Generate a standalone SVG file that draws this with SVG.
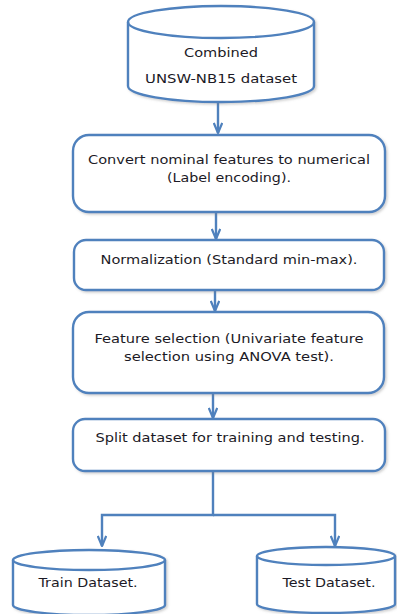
<svg xmlns="http://www.w3.org/2000/svg" width="397" height="614" viewBox="0 0 397 614">
  <defs>
    <marker id="arrow" viewBox="0 0 12 10" refX="11" refY="5" markerWidth="12" markerHeight="10" markerUnits="userSpaceOnUse" orient="auto">
      <path d="M1,0.8 L11,5 L1,9.2" fill="none" stroke="#4F81BD" stroke-width="2.2" stroke-linejoin="round"/>
    </marker>
    <filter id="shadow" x="-5%" y="-10%" width="115%" height="130%">
      <feDropShadow dx="1.5" dy="1.5" stdDeviation="1" flood-color="#7a7a7a" flood-opacity="0.35"/>
    </filter>
  </defs>
  <style>
    .shape { fill: #ffffff; stroke: #4F81BD; stroke-width: 2.4; filter: url(#shadow); }
    .rim { fill: none; stroke: #4F81BD; stroke-width: 2.4; }
    .label { font-family: "DejaVu Sans", Verdana, sans-serif; font-size: 12.5px; fill: #1c1a26; text-anchor: middle; }
    .link { fill: none; stroke: #4F81BD; stroke-width: 2.4; }
  </style>
  <rect width="397" height="614" fill="#ffffff"/>

  <!-- connectors -->
  <g id="connectors">
    <line class="link" x1="218" y1="103" x2="218" y2="133" marker-end="url(#arrow)"/>
    <line class="link" x1="216" y1="213" x2="216" y2="239" marker-end="url(#arrow)"/>
    <line class="link" x1="215" y1="290" x2="215" y2="311" marker-end="url(#arrow)"/>
    <line class="link" x1="213" y1="393" x2="213" y2="418" marker-end="url(#arrow)"/>
    <polyline class="link" points="213,471 213,515 102,515 102,546" marker-end="url(#arrow)"/>
    <polyline class="link" points="213,515 335,515 335,546" marker-end="url(#arrow)"/>
  </g>

  <!-- source dataset -->
  <g id="source">
    <path class="shape" d="M128,22 L128,86 A93,16 0 0 0 314,86 L314,22 A93,16 0 0 0 128,22 Z"/>
    <path class="rim" d="M128,22 A93,16 0 0 0 314,22"/>
    <text class="label" x="221" y="57" textLength="74" lengthAdjust="spacingAndGlyphs">Combined</text>
    <text class="label" x="221" y="83" textLength="152" lengthAdjust="spacingAndGlyphs">UNSW-NB15 dataset</text>
  </g>

  <!-- label encoding -->
  <g id="encode">
    <rect class="shape" x="73" y="135" width="312" height="77" rx="16"/>
    <text class="label" x="229" y="164" textLength="282" lengthAdjust="spacingAndGlyphs">Convert nominal features to numerical</text>
    <text class="label" x="229" y="182" textLength="124" lengthAdjust="spacingAndGlyphs">(Label encoding).</text>
  </g>

  <!-- normalization -->
  <g id="normalize">
    <rect class="shape" x="74" y="240" width="310" height="50" rx="12"/>
    <text class="label" x="229" y="264" textLength="257" lengthAdjust="spacingAndGlyphs">Normalization (Standard min-max).</text>
  </g>

  <!-- feature selection -->
  <g id="select">
    <rect class="shape" x="73" y="312" width="311" height="81" rx="16"/>
    <text class="label" x="229" y="343" textLength="269" lengthAdjust="spacingAndGlyphs">Feature selection (Univariate feature</text>
    <text class="label" x="229" y="361" textLength="210" lengthAdjust="spacingAndGlyphs">selection using ANOVA test).</text>
  </g>

  <!-- split -->
  <g id="split">
    <rect class="shape" x="73" y="419" width="312" height="52" rx="12"/>
    <text class="label" x="230" y="442" textLength="269" lengthAdjust="spacingAndGlyphs">Split dataset for training and testing.</text>
  </g>

  <!-- train dataset -->
  <g id="train">
    <path class="shape" d="M13,560 L13,605 A76,10 0 0 0 165,605 L165,560 A76,10 0 0 0 13,560 Z"/>
    <path class="rim" d="M13,560 A76,10 0 0 0 165,560"/>
    <text class="label" x="88" y="587" textLength="99" lengthAdjust="spacingAndGlyphs">Train Dataset.</text>
  </g>

  <!-- test dataset -->
  <g id="test">
    <path class="shape" d="M257,556 L257,604 A69,9 0 0 0 395,604 L395,556 A69,9 0 0 0 257,556 Z"/>
    <path class="rim" d="M257,556 A69,9 0 0 0 395,556"/>
    <text class="label" x="329" y="587" textLength="93" lengthAdjust="spacingAndGlyphs">Test Dataset.</text>
  </g>
</svg>
